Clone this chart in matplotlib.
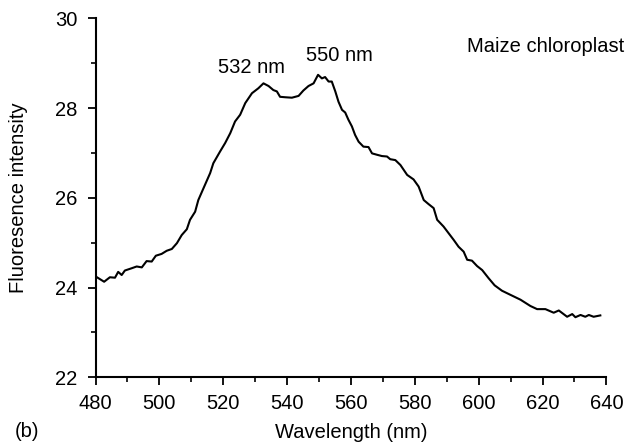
import numpy as np
import matplotlib.pyplot as plt
from matplotlib.ticker import MultipleLocator

plt.rcParams['font.family'] = ['Liberation Sans', 'DejaVu Sans']

# traced spectrum (wavelength nm, intensity)
wavelength = [480.0, 482.7, 484.5, 486.1, 487.1, 488.2, 489.2, 491.3, 492.9, 494.5,
              496.0, 497.6, 498.9, 500.7, 502.3, 503.9, 505.5, 507.0, 508.6, 509.6,
              511.2, 512.2, 513.8, 515.9, 516.9, 519.0, 520.6, 522.2, 523.7, 525.3,
              526.9, 529.0, 531.0, 532.6, 534.2, 535.7, 536.8, 537.8, 539.4, 541.5,
              543.6, 545.1, 546.7, 548.3, 549.7, 550.9, 551.9, 553.0, 554.0, 555.1,
              556.1, 557.2, 558.2, 559.2, 560.3, 561.3, 562.4, 563.9, 565.5, 566.6,
              568.1, 569.7, 571.3, 572.3, 573.9, 575.5, 577.6, 579.6, 581.2, 582.8,
              584.3, 585.9, 587.0, 589.0, 590.6, 592.2, 593.7, 595.3, 596.4, 597.9,
              599.5, 601.1, 603.1, 605.0, 607.3, 609.9, 613.1, 616.2, 618.3, 620.9,
              623.5, 625.1, 627.7, 629.3, 630.3, 631.9, 633.4, 634.5, 636.0, 638.1]
intensity = [24.25, 24.13, 24.23, 24.22, 24.35, 24.28, 24.38, 24.43, 24.47, 24.45,
             24.59, 24.58, 24.71, 24.75, 24.82, 24.86, 24.99, 25.17, 25.30, 25.51,
             25.69, 25.95, 26.21, 26.55, 26.77, 27.03, 27.22, 27.44, 27.70, 27.85,
             28.11, 28.33, 28.44, 28.55, 28.49, 28.40, 28.37, 28.25, 28.24, 28.23,
             28.27, 28.39, 28.49, 28.55, 28.74, 28.66, 28.69, 28.59, 28.59, 28.37,
             28.14, 27.96, 27.90, 27.74, 27.59, 27.40, 27.25, 27.14, 27.13, 26.99,
             26.96, 26.93, 26.92, 26.86, 26.84, 26.73, 26.51, 26.41, 26.25, 25.95,
             25.86, 25.77, 25.51, 25.36, 25.21, 25.06, 24.91, 24.80, 24.62, 24.60,
             24.48, 24.39, 24.21, 24.05, 23.93, 23.84, 23.73, 23.59, 23.52, 23.52,
             23.44, 23.49, 23.35, 23.41, 23.34, 23.39, 23.35, 23.39, 23.35, 23.38]

fig = plt.figure(figsize=(6.41, 4.45), dpi=100)
ax = fig.add_axes([0.149, 0.152, 0.797, 0.807])
ax.plot(wavelength, intensity, color='black', lw=1.5)

ax.set_xlim(480, 640)
ax.set_ylim(22, 30)
ax.xaxis.set_major_locator(MultipleLocator(20))
ax.xaxis.set_minor_locator(MultipleLocator(10))
ax.yaxis.set_major_locator(MultipleLocator(2))
ax.yaxis.set_minor_locator(MultipleLocator(1))
for s in ['top', 'right']:
    ax.spines[s].set_visible(False)
for s in ['left', 'bottom']:
    ax.spines[s].set_linewidth(1.5)
ax.tick_params(which='major', direction='out', length=6, width=1.3, labelsize=14.5)
ax.tick_params(axis='x', which='major', pad=6)
ax.tick_params(axis='y', which='major', pad=7)
ax.tick_params(which='minor', direction='out', length=3.5, width=1.2)

ax.set_xlabel('Wavelength (nm)', fontsize=14.5)
ax.set_ylabel('Fluoresence intensity', fontsize=14.5)
ax.xaxis.set_label_coords(0.5, -0.127)
ax.yaxis.set_label_coords(-0.132, 0.5)

ax.text(529, 28.9, '532 nm', ha='center', va='center', fontsize=14.5)
ax.text(556.5, 29.18, '550 nm', ha='center', va='center', fontsize=14.5)
ax.text(621, 29.36, 'Maize chloroplast', ha='center', va='center', fontsize=14.5)
fig.text(0.042, 0.03, '(b)', ha='center', va='center', fontsize=14.5)

fig.savefig('out.png', dpi=100)
